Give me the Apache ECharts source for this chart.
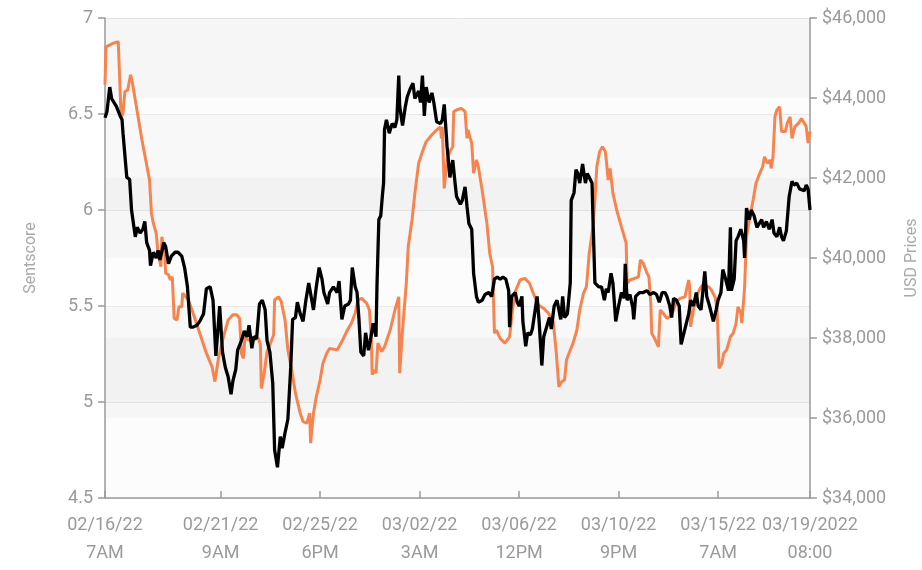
<!DOCTYPE html>
<html>
<head>
<meta charset="utf-8">
<script src="https://cdn.jsdelivr.net/npm/echarts@6/dist/echarts.min.js"></script>
<style>html,body{margin:0;padding:0;background:#fff}#chart{width:922px;height:570px}</style>
</head>
<body>
<div id="chart"></div>
<script>
// hours since 02/16/22 7AM
const tickHours = [0, 122, 227, 332, 437, 542, 647, 744];
const tickLabels = ['02/16/22\n7AM', '02/21/22\n9AM', '02/25/22\n6PM', '03/02/22\n3AM', '03/06/22\n12PM', '03/10/22\n9PM', '03/15/22\n7AM', '03/19/2022\n08:00'];

const sentHours = [0,2,5,7,9,12,14,16,18,19,21,23,26,28,32,34,37,40,42,44,47,48,51,54,56,58,62,64,67,70,74,77,81,84,87,90,93,97,100,104,107,111,114,117,120,121,124,127,130,133,135,138,140,142,144,147,150,152,155,157,160,163,166,169,171,174,177,179,182,185,187,190,193,196,198,201,203,206,209,212,215,217,220,223,226,229,231,235,237,241,245,247,250,253,257,259,261,264,266,268,270,273,275,278,280,283,286,287,289,291,293,294,295,297,300,303,306,308,310,311,314,317,319,322,325,327,331,333,335,337,339,342,345,347,350,354,356,358,361,364,367,369,371,375,377,380,382,384,387,389,392,394,398,401,405,408,411,414,417,420,423,426,427,429,433,435,437,440,441,444,446,449,451,454,456,458,461,463,466,469,471,474,477,479,481,483,485,488,491,492,495,497,499,501,504,507,509,512,514,515,517,521,524,527,529,531,534,536,539,542,545,548,549,551,554,557,558,560,564,568,572,575,579,582,585,588,591,593,596,598,600,603,606,608,610,613,616,618,621,624,626,629,631,633,635,638,640,642,645,647,650,652,655,658,660,661,664,666,668,671,674,675,677,680,682,685,688,690,693,695,698,701,704,706,709,712,714,716,719,722,725,727,730,733,735,738,740,742,744];
const sentValues = [6.48,6.51,6.64,6.58,6.59,6.54,6.55,6.49,6.47,6.40,6.39,6.17,6.16,6.00,5.86,5.91,5.88,5.90,5.94,5.83,5.79,5.71,5.78,5.75,5.79,5.74,5.83,5.81,5.72,5.76,5.78,5.78,5.76,5.70,5.60,5.39,5.39,5.40,5.42,5.46,5.59,5.60,5.53,5.24,5.43,5.50,5.26,5.18,5.13,5.04,5.11,5.17,5.27,5.26,5.32,5.37,5.34,5.40,5.28,5.34,5.33,5.51,5.53,5.48,5.32,5.26,5.10,4.75,4.66,4.82,4.76,4.84,4.91,5.18,5.43,5.44,5.52,5.46,5.42,5.53,5.62,5.61,5.48,5.60,5.70,5.64,5.57,5.51,5.57,5.60,5.57,5.63,5.43,5.50,5.51,5.53,5.70,5.60,5.57,5.43,5.26,5.24,5.36,5.27,5.32,5.41,5.34,5.60,5.95,5.97,6.09,6.14,6.42,6.47,6.40,6.45,6.43,6.47,6.70,6.54,6.44,6.54,6.59,6.63,6.66,6.58,6.62,6.56,6.70,6.49,6.64,6.56,6.61,6.56,6.46,6.45,6.47,6.55,6.33,6.17,6.26,6.16,6.07,6.03,6.05,6.12,6.02,5.93,5.90,5.67,5.55,5.52,5.53,5.56,5.57,5.55,5.64,5.65,5.64,5.65,5.64,5.58,5.39,5.55,5.57,5.52,5.50,5.55,5.42,5.29,5.36,5.35,5.38,5.48,5.55,5.43,5.19,5.34,5.39,5.44,5.38,5.50,5.53,5.48,5.43,5.55,5.44,5.46,5.62,6.05,6.09,6.21,6.19,6.14,6.24,6.14,6.19,6.16,6.14,5.95,5.62,5.60,5.60,5.53,5.59,5.57,5.67,5.62,5.42,5.50,5.57,5.54,5.72,5.53,5.56,5.49,5.43,5.55,5.57,5.57,5.58,5.56,5.57,5.56,5.52,5.57,5.57,5.55,5.50,5.44,5.54,5.53,5.50,5.30,5.34,5.40,5.46,5.53,5.50,5.57,5.50,5.48,5.58,5.68,5.55,5.50,5.46,5.42,5.48,5.53,5.57,5.69,5.64,5.58,5.91,5.58,5.64,5.84,5.86,5.90,5.84,5.75,6.01,5.95,6.00,5.97,5.91,5.90,5.95,5.91,5.94,5.90,5.95,5.88,5.86,5.91,5.86,5.84,5.89,6.07,6.15,6.13,6.14,6.11,6.12,6.10,6.13,6.11,6.00];

const priceHours = [0,1,9,14,16,17,19,21,24,27,29,39,47,49,51,54,56,59,60,63,64,67,69,71,73,76,78,81,82,84,88,93,100,107,113,116,120,125,130,135,139,142,144,146,148,151,156,162,164,165,168,171,174,178,179,183,186,190,193,197,201,206,209,213,216,217,220,223,227,230,234,237,245,250,255,260,264,267,271,276,279,281,282,284,286,288,292,295,301,306,310,311,314,318,320,324,327,331,335,339,345,350,354,355,356,358,361,364,367,368,371,376,380,382,383,385,387,389,392,394,398,403,406,409,411,413,417,422,427,430,433,438,443,448,452,457,463,468,473,476,478,479,482,485,487,491,494,498,501,505,508,509,511,515,517,519,522,525,528,529,531,533,536,540,545,550,551,554,559,563,565,568,572,574,576,577,580,584,586,589,593,596,600,603,607,612,616,617,618,621,624,628,631,637,640,644,646,647,648,651,653,656,660,663,666,668,671,672,674,675,677,680,684,687,691,694,696,699,702,703,705,707,709,712,713,714,718,720,723,725,728,732,735,738,740,742,744];
const priceValues = [44330,45280,45370,45410,45370,43530,43620,44160,44200,44580,44370,42950,41950,41120,40870,40620,40120,39780,40530,40120,39620,39580,39450,39530,38490,38450,38780,38780,39120,39080,38950,38620,38120,37620,37280,36910,37530,38030,38450,38580,38580,38490,37620,37490,38080,37950,37950,37990,37830,36740,37120,37660,37830,38080,38950,39030,38910,38450,37700,37200,36620,36120,35910,35870,36120,35370,36120,36530,36950,37370,37620,37740,37700,37910,38160,38370,38620,38950,38990,38870,38700,38030,37080,37200,37120,37870,37660,37780,38200,38700,39030,37120,38200,39370,40280,40950,41620,42370,42660,42910,43080,43200,43280,42990,43280,41740,42450,42660,42780,43660,43700,43740,43660,42990,43200,43240,42870,42120,42450,42280,41700,40870,40120,39780,38120,38200,37990,37870,38030,38700,39160,39450,39490,39370,39120,38830,38740,38620,38410,37700,37660,36780,36910,36950,37450,37700,37870,38200,38700,39120,39280,39530,40120,40780,41450,42280,42660,42780,42660,42450,41950,42240,41620,41200,40780,40370,39370,39450,39490,39530,39950,39870,39620,39530,38870,38120,37990,37780,38700,38620,38490,38530,38700,38910,38990,39030,39450,39280,38280,38700,39030,39240,39330,39280,39200,39010,38700,38030,37240,37370,37620,37700,38030,38120,38370,38780,38620,38370,38950,39280,40530,40950,41450,41870,42120,42280,42530,42370,42450,42240,42530,43530,43700,43780,43450,43160,43160,43370,43530,42990,43280,43370,43490,43370,43280,42870,43160];

const sentData = sentHours.map((h, i) => [h, sentValues[i]]);
const priceData = priceHours.map((h, i) => [h, priceValues[i]]);

const grey = '#9a9a9a';
const font = 'Roboto, "Noto Sans", sans-serif';

const chart = echarts.init(document.getElementById('chart'), null, {renderer: 'canvas'});
chart.setOption({
  animation: false,
  backgroundColor: '#fff',
  grid: {left: 105, right: 112, top: 18, bottom: 72, containLabel: false, outerBoundsMode: 'none'},
  xAxis: {
    type: 'value',
    min: 0,
    max: 744,
    axisLine: {show: true, lineStyle: {color: grey, width: 1.5}},
    axisTick: {show: true, inside: true, length: 7, customValues: tickHours, lineStyle: {color: grey, width: 1.5}},
    axisLabel: {
      customValues: tickHours,
      color: grey,
      fontSize: 18,
      fontFamily: font,
      lineHeight: 28,
      margin: 13,
      formatter: function (v) {
        const i = tickHours.indexOf(Math.round(v));
        return i >= 0 ? tickLabels[i] : '';
      }
    },
    splitLine: {show: false}
  },
  yAxis: [
    {
      type: 'value',
      name: 'Sentscore',
      nameLocation: 'middle',
      nameGap: 66,
      nameTextStyle: {color: '#aaa', fontSize: 16, fontFamily: font},
      min: 4.5,
      max: 7,
      interval: 0.5,
      axisLine: {show: true, lineStyle: {color: grey, width: 1.5}},
      axisTick: {show: true, length: 7, lineStyle: {color: grey, width: 1.5}},
      axisLabel: {color: grey, fontSize: 18, fontFamily: font, margin: 12},
      splitLine: {show: true, lineStyle: {color: '#ebebeb', width: 1}},
      splitArea: {show: true, areaStyle: {color: ['rgba(0,0,0,0)', 'rgba(0,0,0,0.015)']}}
    },
    {
      type: 'value',
      name: 'USD Prices',
      nameLocation: 'middle',
      nameGap: 94,
      nameRotate: 90,
      nameTextStyle: {color: '#aaa', fontSize: 16, fontFamily: font},
      min: 34000,
      max: 46000,
      interval: 2000,
      axisLine: {show: true, lineStyle: {color: grey, width: 1.5}},
      axisTick: {show: true, length: 7, lineStyle: {color: grey, width: 1.5}},
      axisLabel: {
        color: grey, fontSize: 18, fontFamily: font, margin: 12,
        formatter: function (v) { return '$' + v.toLocaleString('en-US'); }
      },
      splitLine: {show: false},
      splitArea: {show: true, areaStyle: {color: ['rgba(0,0,0,0.012)', 'rgba(0,0,0,0.035)']}}
    }
  ],
  series: [
    {
      name: 'Price',
      type: 'line',
      yAxisIndex: 1,
      data: priceData,
      showSymbol: false,
      symbol: 'none',
      lineStyle: {color: '#f5844f', width: 3},
      z: 2
    },
    {
      name: 'Sentscore',
      type: 'line',
      yAxisIndex: 0,
      data: sentData,
      showSymbol: false,
      symbol: 'none',
      lineStyle: {color: '#000', width: 3.3},
      z: 3
    }
  ]
});
</script>
</body>
</html>
